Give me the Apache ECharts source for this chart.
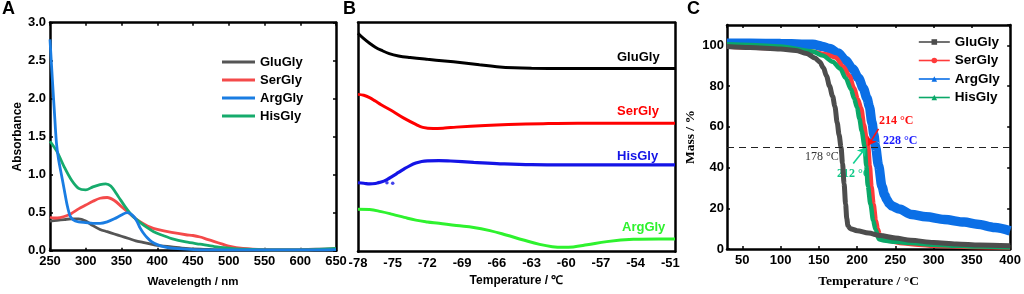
<!DOCTYPE html>
<html><head><meta charset="utf-8">
<script src="https://cdn.jsdelivr.net/npm/echarts@6/dist/echarts.min.js"></script>
<style>html,body{margin:0;padding:0;background:#fff}#c{width:1024px;height:294px}</style>
</head><body><div id="c"></div>
<script>
// ---------- Panel A: UV-Vis ----------
const aGluX = [250,260,270,280,290,300,310,320,330,340,350,360,370,380,390,400,420,440,460,480,500,550,600,650];
const aGluY = [0.39,0.40,0.41,0.42,0.42,0.39,0.33,0.28,0.25,0.22,0.19,0.16,0.13,0.11,0.09,0.07,0.05,0.03,0.02,0.015,0.01,0.01,0.015,0.025];
const aSerX = [250,255,260,270,280,290,300,310,320,330,340,350,360,370,380,390,400,420,440,450,460,470,480,490,500,520,550,600,650];
const aSerY = [0.44,0.43,0.43,0.45,0.49,0.55,0.60,0.65,0.69,0.70,0.66,0.58,0.50,0.42,0.36,0.31,0.28,0.24,0.21,0.20,0.18,0.15,0.12,0.09,0.06,0.03,0.015,0.01,0.02];
const aArgX = [250,253,256,259,262,266,270,274,278,282,290,300,310,320,330,340,350,358,362,368,372,376,380,386,392,400,410,420,440,460,500,600,650];
const aArgY = [2.78,2.30,1.85,1.42,1.20,1.00,0.80,0.60,0.46,0.41,0.38,0.37,0.36,0.36,0.38,0.42,0.47,0.50,0.49,0.44,0.38,0.30,0.24,0.17,0.12,0.08,0.05,0.035,0.02,0.012,0.01,0.01,0.015];
const aHisX = [250,260,270,280,290,300,310,320,328,335,345,355,365,375,385,395,405,420,440,460,480,500,520,550,600,650];
const aHisY = [1.44,1.30,1.10,0.93,0.82,0.80,0.84,0.87,0.88,0.85,0.72,0.58,0.46,0.38,0.31,0.25,0.21,0.16,0.115,0.085,0.055,0.035,0.02,0.012,0.01,0.03];

// ---------- Panel B: DSC (arbitrary heat flow units) ----------
const bGluX = [-78,-77.5,-77,-76.5,-76,-75.3,-74.5,-73.5,-72,-70.5,-69,-67.5,-66,-64.5,-63,-60,-55,-50.6];
const bGluY = [95.4,93,91,89.3,88,86.5,85.5,84.8,84,83.3,82.5,81.6,80.8,80.3,80.1,80.0,80.0,80.0];
const bSerX = [-78,-77.5,-77,-76.5,-76,-75,-74,-73,-72.4,-71.5,-70.5,-69.5,-67,-65,-62,-59,-55,-50.6];
const bSerY = [68.7,68.3,67.3,65.8,64.2,61.3,58.2,55.6,54.3,53.8,54.0,54.4,55.1,55.5,55.9,56.1,56.1,56.1];
const bHisX = [-78,-77.5,-77,-76.5,-76,-75.5,-75,-74.5,-74,-73.5,-73,-72.5,-72,-71,-70,-68,-66,-63,-60,-55,-50.6];
const bHisY = [30.1,29.9,29.6,29.8,30.4,31.5,33,34.6,36.2,37.6,38.7,39.4,39.7,39.8,39.6,39.0,38.5,38.0,37.9,37.9,37.9];
const bHisDotX = [-76.2,-75.5,-75.0];
const bHisDotY = [30.2,30.1,29.9];
const bArgX = [-78,-77,-76,-75,-74,-73,-72,-71,-69.5,-68,-66.6,-65.2,-63.7,-62.3,-61.2,-60.3,-59.4,-58.2,-56.5,-54.2,-52,-50.6];
const bArgY = [18.5,18.4,17.5,16.3,15.0,13.8,13.0,12.4,11.4,10.6,9.2,7.3,5.1,3.2,2.2,1.9,2.1,3.0,4.4,5.4,5.6,5.6];

// ---------- Panel C: TGA ----------
const cGluX = [30,60,100,120,134,145,151,156,160,164,168,171,174,176.5,179,181,183,185,186.5,188,191,200,215,230,250,270,300,330,360,400];
const cGluY = [99.5,99.0,98.2,97.5,96,93.8,92,89,85,80,75,70,62,56,50,42,32,22,15,11.5,10,9.0,7.8,6.6,5.4,4.3,3.2,2.5,2.0,1.6];
const cSerX = [30,60,100,140,160,172,182,190,196,201,205.4,209,212,214.5,216.5,218.8,221.5,224.5,227,229.5,232,240,260,280,300,350,400];
const cSerY = [99.5,99.0,98.5,97,95.5,94,89.5,85,79,73.5,69,61,55,50.4,41,30.7,22,14,10,7,5.5,4.0,2.8,2.1,1.6,1.0,0.7];
const cArgX = [30,60,100,142,155,164,175,185,194,202,208,213,216,219.5,222,224,228,232.5,236,239,242,246,255,271,290,314,340,357,380,400];
const cArgY = [101,101,100.9,100.5,99.5,98.4,96.2,92.7,88.5,83.9,79,74,70,62,56,50.4,41,30.7,26.5,24.2,22.4,21,19.6,17,15.8,14.5,13.2,12.2,10.6,8.9];
const cHisX = [30,60,100,142,155,168,178,185,192,196,200,203,206,209.8,212,214,217.5,221,224,228.5,235,250,270,300,330,360,400];
const cHisY = [100.5,100.2,99.5,97,95,92,88.5,84,78.5,74,69.4,64,58,50.4,41,31,22,14,9.7,4.8,4.2,3.5,2.9,2.1,1.6,1.2,0.9];

const zip = (xs, ys) => xs.map((x, i) => [x, ys[i]]);
const SANS = "'Liberation Sans', Arial, sans-serif";
const SERIF = "'Liberation Serif', 'Times New Roman', serif";
const BW = 2.5;

function frameX(grid, min, max, extra) {
  return Object.assign({
    type: 'value', gridIndex: grid, min: min, max: max,
    axisLine: {show: true, onZero: false, lineStyle: {color: '#000', width: BW}},
    axisTick: {show: true, inside: true, length: 3, lineStyle: {color: '#000', width: 1.5}},
    splitLine: {show: false},
    axisLabel: {show: true, color: '#000', fontFamily: SANS, fontWeight: 'bold', fontSize: 13, margin: 4}
  }, extra || {});
}

const chart = echarts.init(document.getElementById('c'), null, {renderer: 'canvas'});
const option = {
  animation: false,
  backgroundColor: '#fff',
  grid: [
    {left: 50, top: 22.7, width: 286, height: 228},
    {left: 358, top: 22.7, width: 317, height: 229},
    {left: 727, top: 25, width: 286, height: 228.3}
  ],
  xAxis: [
    frameX(0, 250, 650, {interval: 50, position: 'bottom',
      name: 'Wavelength / nm', nameLocation: 'middle', nameGap: 25,
      nameTextStyle: {fontFamily: SANS, fontWeight: 'bold', fontSize: 11.5, color: '#000'}}),
    frameX(0, 250, 650, {interval: 50, position: 'top', axisLabel: {show: false}}),
    frameX(1, -78, -50.6, {interval: 3, position: 'bottom', axisTick: {show: false},
      axisLabel: {show: true, color: '#000', fontFamily: SANS, fontWeight: 'bold', fontSize: 13, margin: 5, showMaxLabel: false,
        formatter: v => (Math.abs(v - Math.round(v)) < 1e-6 ? String(Math.round(v)) : '')},
      name: 'Temperature / \u2103', nameLocation: 'middle', nameGap: 22,
      nameTextStyle: {fontFamily: SANS, fontWeight: 'bold', fontSize: 12, color: '#000'}}),
    frameX(1, -78, -50.6, {position: 'top', axisTick: {show: false}, axisLabel: {show: false}}),
    frameX(2, 30, 400, {splitNumber: 7, position: 'bottom',
      axisLabel: {show: true, color: '#000', fontFamily: SANS, fontWeight: 'bold', fontSize: 13, margin: 5, showMinLabel: false},
      name: 'Temperature / \u00b0C', nameLocation: 'middle', nameGap: 26,
      nameTextStyle: {fontFamily: SERIF, fontWeight: 'bold', fontSize: 13.5, color: '#000'}}),
    frameX(2, 30, 400, {splitNumber: 7, position: 'top', axisLabel: {show: false}})
  ],
  yAxis: [
    frameX(0, 0, 3, {interval: 0.5, position: 'left',
      axisLabel: {show: true, color: '#000', fontFamily: SANS, fontWeight: 'bold', fontSize: 13, margin: 4, formatter: v => v.toFixed(1)},
      name: 'Absorbance', nameLocation: 'middle', nameGap: 26,
      nameTextStyle: {fontFamily: SANS, fontWeight: 'bold', fontSize: 12, color: '#000'}}),
    frameX(0, 0, 3, {interval: 0.5, position: 'right', axisLabel: {show: false}}),
    frameX(1, 0, 100, {position: 'left', axisTick: {show: false}, axisLabel: {show: false}}),
    frameX(1, 0, 100, {position: 'right', axisTick: {show: false}, axisLabel: {show: false}}),
    frameX(2, 0, 110, {interval: 20, position: 'left',
      axisLabel: {show: true, color: '#000', fontFamily: SANS, fontWeight: 'bold', fontSize: 13, margin: 3, showMaxLabel: false},
      name: 'Mass / %', nameLocation: 'middle', nameGap: 29,
      nameTextStyle: {fontFamily: SERIF, fontWeight: 'bold', fontSize: 13.5, color: '#000'}}),
    frameX(2, 0, 110, {interval: 20, position: 'right', axisLabel: {show: false}})
  ],
  legend: [
    {data: ['A-GluGly','A-SerGly','A-ArgGly','A-HisGly'], orient: 'vertical', left: 222, top: 55, padding: 0,
      icon: 'rect', itemWidth: 33, itemHeight: 3, itemGap: 4, itemTextGap: 3, formatter: n => n.slice(2),
      textStyle: {fontFamily: SANS, fontWeight: 'bold', fontSize: 13, color: '#000', lineHeight: 14}},
    {data: ['C-GluGly','C-SerGly','C-ArgGly','C-HisGly'], orient: 'vertical', left: 918, top: 35, padding: 0,
      itemWidth: 31, itemHeight: 7, itemGap: 4.5, itemTextGap: 4, formatter: n => n.slice(2),
      lineStyle: {width: 1.6},
      textStyle: {fontFamily: SANS, fontWeight: 'bold', fontSize: 13.5, color: '#000', lineHeight: 13}}
  ],
  series: [
    // A
    {name: 'A-GluGly', type: 'line', xAxisIndex: 0, yAxisIndex: 0, data: zip(aGluX, aGluY), smooth: 0.3, symbol: 'none', color: '#555555', lineStyle: {width: 2.8}},
    {name: 'A-SerGly', type: 'line', xAxisIndex: 0, yAxisIndex: 0, data: zip(aSerX, aSerY), smooth: 0.3, symbol: 'none', color: '#f44a4a', lineStyle: {width: 2.8}},
    {name: 'A-HisGly', type: 'line', xAxisIndex: 0, yAxisIndex: 0, data: zip(aHisX, aHisY), smooth: 0.3, symbol: 'none', color: '#16ab6c', lineStyle: {width: 2.8}},
    {name: 'A-ArgGly', type: 'line', xAxisIndex: 0, yAxisIndex: 0, data: zip(aArgX, aArgY), smooth: 0.3, symbol: 'none', color: '#1a7de2', lineStyle: {width: 2.8}},
    // B
    {name: 'B-GluGly', type: 'line', xAxisIndex: 2, yAxisIndex: 2, data: zip(bGluX, bGluY), smooth: 0.4, symbol: 'none', color: '#000', lineStyle: {width: 3}},
    {name: 'B-SerGly', type: 'line', xAxisIndex: 2, yAxisIndex: 2, data: zip(bSerX, bSerY), smooth: 0.4, symbol: 'none', color: '#ff0000', lineStyle: {width: 3}},
    {name: 'B-HisGly', type: 'line', xAxisIndex: 2, yAxisIndex: 2, data: zip(bHisX, bHisY), smooth: 0.4, symbol: 'none', color: '#1414e6', lineStyle: {width: 3.2}},
    {name: 'B-HisGlyDots', type: 'scatter', xAxisIndex: 2, yAxisIndex: 2, data: zip(bHisDotX, bHisDotY), symbolSize: 3.5, color: '#1414e6'},
    {name: 'B-ArgGly', type: 'line', xAxisIndex: 2, yAxisIndex: 2, data: zip(bArgX, bArgY), smooth: 0.4, symbol: 'none', color: '#2ef22e', lineStyle: {width: 3}},
    // C
    {name: 'C-ArgGly', type: 'line', xAxisIndex: 4, yAxisIndex: 4, data: zip(cArgX, cArgY), smooth: 0.3, smoothMonotone: 'x', symbol: 'triangle', showSymbol: false, color: '#0b6fe6', lineStyle: {width: 9.5}},
    {name: 'C-SerGly', type: 'line', xAxisIndex: 4, yAxisIndex: 4, data: zip(cSerX, cSerY), smooth: 0.3, smoothMonotone: 'x', symbol: 'circle', showSymbol: false, color: '#ff3a3a', lineStyle: {width: 4.5},
      markLine: {silent: true, symbol: ['none', 'arrow'], symbolSize: 8, label: {show: false},
        lineStyle: {color: '#ff1010', width: 1.6, type: 'solid'},
        data: [[{coord: [228, 59]}, {coord: [214.5, 50.8]}]]}},
    {name: 'C-HisGly', type: 'line', xAxisIndex: 4, yAxisIndex: 4, data: zip(cHisX, cHisY), smooth: 0.3, smoothMonotone: 'x', symbol: 'triangle', showSymbol: false, color: '#0aa868', lineStyle: {width: 4.5},
      markLine: {silent: true, symbol: ['none', 'arrow'], symbolSize: 8, label: {show: false},
        lineStyle: {color: '#10d090', width: 1.6, type: 'solid'},
        data: [[{coord: [195, 42]}, {coord: [211.5, 49.8]}]]}},
    {name: 'C-GluGly', type: 'line', xAxisIndex: 4, yAxisIndex: 4, data: zip(cGluX, cGluY), smooth: 0.3, smoothMonotone: 'x', symbol: 'rect', showSymbol: false, color: '#4d4d4d', lineStyle: {width: 5},
      markLine: {silent: true, symbol: 'none', label: {show: false},
        lineStyle: {color: '#222', width: 1.2, type: [7, 5]},
        data: [{yAxis: 50}]}}
  ],
  graphic: [
    {type: 'text', left: 2, top: 0, style: {text: 'A', font: 'bold 18px ' + SANS, fill: '#000'}},
    {type: 'text', left: 343, top: 0, style: {text: 'B', font: 'bold 18px ' + SANS, fill: '#000'}},
    {type: 'text', left: 687, top: 0, style: {text: 'C', font: 'bold 18px ' + SANS, fill: '#000'}},
    {type: 'text', left: 617, top: 51, style: {text: 'GluGly', font: 'bold 13px ' + SANS, fill: '#000'}},
    {type: 'text', left: 617, top: 105, style: {text: 'SerGly', font: 'bold 13px ' + SANS, fill: '#ff0000'}},
    {type: 'text', left: 617, top: 150, style: {text: 'HisGly', font: 'bold 13px ' + SANS, fill: '#1414e6'}},
    {type: 'text', left: 622, top: 221, style: {text: 'ArgGly', font: 'bold 13px ' + SANS, fill: '#2ef22e'}},
    {type: 'text', left: 805, top: 151, style: {text: '178 \u00b0C', font: '12px ' + SERIF, fill: '#333'}},
    {type: 'text', left: 837, top: 168, style: {text: '212 \u00b0C', font: 'bold 12px ' + SERIF, fill: '#10c888'}},
    {type: 'text', left: 879, top: 115, style: {text: '214 \u00b0C', font: 'bold 12px ' + SERIF, fill: '#ff1010'}},
    {type: 'text', left: 883, top: 135, style: {text: '228 \u00b0C', font: 'bold 12px ' + SERIF, fill: '#1a1aff'}}
  ]
};
chart.setOption(option);
</script></body></html>
